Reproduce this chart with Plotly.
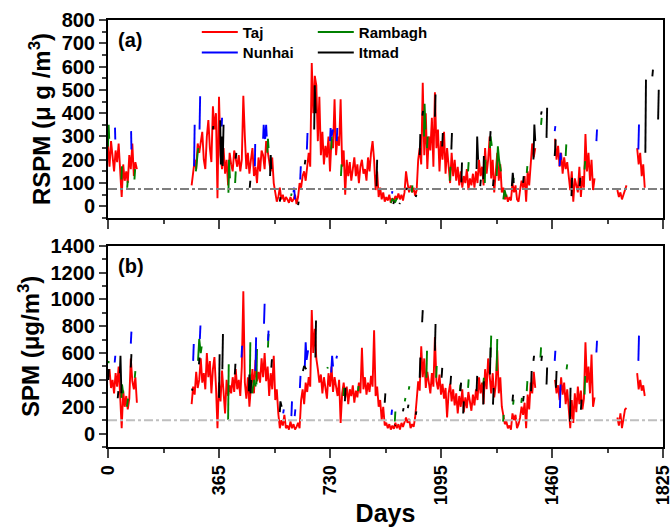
import plotly.graph_objects as go

# ---------------- data ----------------
STEP = 5
# Taj segments: (start day, values every 5 days)
taj_rspm_starts = [0, 275, 1470, 1675, 1740]
taj_rspm_seg1 = [260, 170, 280, 200, 150, 240, 190, 270, 130, 40, 180, 110, 150, 100, 220, 160, 270, 130, 190, 160]
taj_rspm_seg2 = [90, 150, 200, 160, 270, 230, 280, 320, 200, 160, 300, 370, 250, 190, 430, 330, 400, 35, 470, 220,
                 160, 250, 140, 200, 90, 230, 180, 150, 240, 200, 170, 220, 150, 200, 475, 300, 160, 230, 140, 200,
                 250, 130, 170, 100, 210, 150, 240, 220, 160, 280, 240, 200, 150, 210, 100, 60, 20, 40, 80, 30,
                 50, 20, 40,
                 30, 15, 40, 20, 30, 50, 10, 40, 100, 80, 130, 150, 110, 180, 230, 170, 615, 400, 560, 520,
                 280, 470, 220, 320, 180, 260, 210, 300, 150, 290, 250, 460, 220, 300, 260, 460, 170, 240, 50, 200,
                 130, 190, 110, 160, 210, 130, 180, 100, 170, 200, 140, 160, 110, 210, 150, 230, 280, 200, 70, 150,
                 40, 80, 30, 60, 20, 40, 25, 50, 15, 35, 20, 45, 30, 55, 30, 50, 25, 60, 150, 100,
                 60, 90, 60, 80, 45, 70, 200, 250, 180, 530, 220, 400, 160, 300, 240, 380, 170, 490, 250, 330,
                 150, 280, 200, 320, 140, 250, 180, 100, 230, 130, 200, 110, 170, 90, 150, 80, 130, 100, 160, 70,
                 120, 90, 140, 80,
                 150, 100, 200, 130, 170, 90, 250, 140, 200, 300, 120, 200, 60, 150, 230, 110, 180, 60, 80, 30,
                 50, 20, 40, 25, 100, 60, 90, 30, 20, 70, 110, 80, 130, 20, 150, 90, 200, 270, 210, 250]
taj_rspm_seg3 = [290, 200, 260, 170, 230, 140, 210, 160, 190, 120, 70, 150, 20, 120, 90, 60, 170, 40, 130, 80,
                 310, 150, 230, 110, 200, 70, 120]
taj_rspm_seg4 = [70, 40, 60, 30, 50, 70, 90]
taj_rspm_seg5 = [250, 180, 230, 130, 180, 80]

taj_spm_starts = [0, 275, 1470, 1675, 1740]
taj_spm_seg1 = [420, 480, 340, 400, 300, 450, 350, 500, 280, 40, 320, 200, 280, 180, 260, 560, 390, 330, 420, 230]
taj_spm_seg2 = [220, 350, 290, 460, 340, 400, 560, 380, 450, 330, 600, 420, 540, 300, 480, 570, 350, 40, 380, 240,
                470, 330, 150, 400, 280, 360, 300, 420, 310, 480, 330, 400, 280, 500, 1060, 380, 260, 420, 200, 350,
                480, 300, 550, 390, 460, 380, 560, 420, 600, 390, 500, 280, 450, 330, 580, 250, 330, 150, 40, 100,
                60, 140, 40,
                60, 30, 90, 40, 70, 30, 50, 80, 40, 250, 330, 220, 380, 310, 420, 350, 920, 600, 780, 560,
                480, 380, 440, 300, 420, 340, 260, 450, 350, 500, 310, 420, 340, 280, 400, 80, 300, 380, 270, 350,
                220, 330, 280, 360, 230, 320, 270, 380, 300, 640, 330, 420, 290, 380, 310, 430, 350, 770, 280, 350,
                200, 250, 100, 200, 60, 80, 40, 70, 30, 60, 35, 80, 40, 70, 30, 80, 50, 90, 120, 80,
                110, 40, 70, 50, 120, 250, 390, 320, 650, 420, 560, 340, 460, 380, 300, 450, 350, 720, 390, 330,
                440, 290, 370, 260, 340, 120, 300, 370, 240, 330, 210, 300, 150, 280, 200, 330, 160, 270, 190, 310,
                230, 170, 290, 210,
                330, 250, 420, 300, 380, 220, 480, 330, 560, 400, 300, 450, 270, 360, 620, 300, 420, 200, 120, 70,
                90, 40, 60, 30, 150, 100, 140, 40, 70, 120, 200, 140, 230, 40, 290, 180, 380, 300, 460, 340]
taj_spm_seg3 = [400, 300, 360, 250, 420, 290, 380, 220, 330, 150, 40, 250, 80, 300, 160, 350, 220, 320, 180, 260,
                680, 380, 500, 300, 590, 200, 270]
taj_spm_seg4 = [120, 60, 150, 40, 110, 180, 190]
taj_spm_seg5 = [450, 330, 400, 320, 360, 280]

# Other stations: visible stretches (None = gap)
N = None
nunhai_a_days = [23, 24, N, 76, 77, N, 283, 285, N, 301, 303, N, 374, 375, N, 483, 484, N, 510, 512, 514, 517, 520, 522, N,
                 610, 612, 615, N, 632, 634, N, 654, 656, N, 730, 732, 735, 740, N, 752, 754, N, 934, 935, N,
                 1469, 1471, N, 1485, 1488, 1490, N, 1606, 1608, N, 1744, 1746]
nunhai_a_vals = [338, 287, N, 323, 244, N, 172, 350, N, 330, 473, N, 343, 380, N, 172, 268, N, 290, 350, 300, 290, 350, 300, N,
                 60, 80, 30, N, 115, 172, N, 244, 315, N, 280, 336, 300, 330, N, 280, 336, N, 55, 65, N,
                 323, 344, N, 173, 230, 200, N, 280, 330, N, 244, 351]

itmad_a_days = [345, 346, N, 369, 371, 374, 377, 380, N, 420, 422, N, 466, 468, N, 533, 535, 537, N, 565, 567, N, 625, 627, N,
                647, 649, N, 678, 680, 683, N, 883, 885, N, 938, 941, N, 958, 960, N, 981, 983, N, 1012, 1014, N,
                1025, 1027, N, 1034, 1036, N, 1075, 1077, N, 1099, 1101, N, 1129, 1131, N, 1162, 1164, N,
                1212, 1214, 1217, N, 1224, 1226, N, 1234, 1236, N, 1256, 1258, N, 1266, 1268, N, 1328, 1331, 1334, N,
                1365, 1367, N, 1399, 1402, 1405, N, 1424, 1426, N, 1442, 1444, N, 1469, 1472, N, 1524, 1526, N,
                1551, 1553, N, 1767, 1769, N, 1790, 1792, N, 1809, 1811]
itmad_a_vals = [330, 345, N, 370, 180, 300, 173, 350, N, 205, 230, N, 80, 110, N, 130, 220, 160, N, 20, 40, N, 5, 20, N,
                180, 200, N, 330, 520, 400, N, 86, 200, N, 10, 20, N, 10, 15, N, 70, 80, N, 40, 50, N,
                220, 310, N, 390, 410, N, 385, 480, N, 257, 315, N, 244, 315, N, 103, 188, N,
                160, 300, 200, N, 87, 115, N, 116, 216, N, 280, 323, N, 87, 115, N, 87, 144, 100, N,
                101, 130, N, 201, 351, 280, N, 394, 408, N, 294, 423, N, 216, 287, N, 44, 123, N,
                87, 123, N, 230, 544, N, 558, 587, N, 373, 501]

rambagh_a_days = [0, 2, 4, N, 44, 46, N, 63, 65, N, 87, 89, N, 289, 291, 295, 297, N, 396, 398, 401, N, 418, 420, N,
                  524, 526, 528, N, 602, 604, N, 734, 736, N, 766, 768, N, 930, 935, 945, 950, N, 999, 1001, N,
                  1039, 1041, 1044, N, 1049, 1051, N, 1124, 1126, N, 1184, 1186, N, 1239, 1241, N, 1256, 1258, 1262, N,
                  1278, 1282, 1286, 1292, N, 1300, 1304, 1310, N, 1332, 1334, N, 1377, 1379, N, 1424, 1426, N,
                  1505, 1507, N, 1567, 1569]
rambagh_a_vals = [257, 350, 290, N, 115, 172, N, 80, 110, N, 115, 160, N, 150, 190, 230, 250, N, 58, 200, 120, N, 100, 150, N,
                  230, 290, 250, N, 45, 55, N, 244, 300, N, 130, 180, N, 15, 30, 20, 35, N, 60, 90, N,
                  300, 440, 330, N, 250, 300, N, 110, 170, N, 150, 190, N, 100, 200, N, 250, 300, 260, N,
                  130, 258, 200, 150, N, 30, 70, 40, N, 100, 122, N, 144, 173, N, 350, 380, N,
                  216, 266, N, 158, 194]

nunhai_b_days = [22, 24, N, 75, 77, N, 280, 282, N, 302, 304, N, 439, 441, N, 485, 487, N, 513, 515, N, 526, 528, N,
                 576, 578, N, 603, 605, N, 614, 616, N, 631, 633, N, 647, 650, 653, 658, N, 734, 737, 740, N,
                 751, 753, N, 932, 934, N, 1469, 1471, N, 1486, 1488, N, 1606, 1608, N, 1744, 1746]
nunhai_b_vals = [530, 580, N, 670, 760, N, 542, 667, N, 705, 805, N, 567, 655, N, 466, 717, N, 818, 968, N, 692, 767, N,
                 150, 180, N, 130, 240, N, 130, 180, N, 340, 430, N, 490, 680, 550, 620, N, 455, 580, 500, N,
                 560, 580, N, 140, 178, N, 542, 617, N, 190, 366, N, 604, 692, N, 542, 730]

itmad_b_days = [1, 3, N, 32, 34, N, 39, 41, 44, N, 75, 77, N, 276, 278, N, 299, 301, N, 365, 367, N, 376, 378, N,
                417, 419, N, 463, 465, 469, 471, N, 537, 539, N, 565, 567, 571, N, 641, 645, 652, N, 682, 684, N,
                779, 781, N, 910, 912, N, 943, 945, N, 970, 972, N, 986, 988, N, 1012, 1014, N, 1025, 1027, N,
                1033, 1035, N, 1075, 1077, N, 1097, 1099, N, 1126, 1128, N, 1159, 1161, N, 1168, 1170, N,
                1212, 1214, N, 1234, 1236, N, 1256, 1258, N, 1266, 1268, N, 1330, 1332, N, 1365, 1367, N,
                1391, 1393, N, 1399, 1401, N, 1425, 1427, N, 1442, 1444, N, 1473, 1475, N, 1519, 1521, N, 1555, 1557]
itmad_b_vals = [400, 480, N, 263, 316, N, 450, 580, 300, N, 492, 592, N, 320, 335, N, 516, 567, N, 266, 592, N, 479, 742, N,
                440, 520, N, 316, 440, 300, 400, N, 491, 554, N, 160, 240, 200, N, 466, 504, 480, N, 567, 843, N,
                241, 341, N, 230, 300, N, 60, 65, N, 165, 190, N, 190, 216, N, 140, 165, N, 416, 567, N,
                830, 920, N, 617, 817, N, 416, 490, N, 366, 430, N, 316, 380, N, 150, 240, N,
                316, 430, N, 216, 390, N, 441, 642, N, 216, 340, N, 240, 290, N, 240, 280, N,
                316, 466, N, 542, 580, N, 542, 580, N, 366, 492, N, 341, 466, N, 90, 341, N, 178, 253]

rambagh_b_days = [1, 3, N, 44, 46, 50, N, 62, 66, N, 88, 90, N, 296, 300, 305, 308, N, 395, 397, N, 466, 468, N,
                  474, 480, 486, N, 488, 490, N, 526, 528, N, 721, 723, N, 774, 776, N, 822, 824, N, 943, 945, N,
                  976, 978, N, 989, 991, N, 1047, 1049, N, 1079, 1081, N, 1157, 1159, N, 1184, 1186, N, 1234, 1236, N,
                  1258, 1260, N, 1278, 1280, N, 1299, 1301, N, 1332, 1334, N, 1359, 1361, N, 1377, 1379, N,
                  1422, 1424, N, 1508, 1510, N, 1567, 1569]
rambagh_b_vals = [525, 540, N, 266, 366, 300, N, 200, 260, N, 416, 466, N, 542, 705, 600, 650, N, 103, 516, N, 316, 680, N,
                  300, 400, 350, N, 366, 630, N, 642, 742, N, 485, 495, N, 280, 341, N, 316, 353, N, 90, 165, N,
                  240, 265, N, 328, 353, N, 416, 617, N, 416, 504, N, 316, 366, N, 341, 404, N, 366, 416, N,
                  567, 730, N, 466, 705, N, 90, 140, N, 216, 253, N, 228, 266, N, 316, 391, N,
                  567, 642, N, 479, 516, N, 291, 429]

RSPM_LIMIT = 75
SPM_LIMIT = 100
x_ticks = [0, 365, 730, 1095, 1460, 1825]


def build(starts, segs):
    xs, ys = [], []
    for s, seg in zip(starts, segs):
        if xs:
            xs.append(None)
            ys.append(None)
        xs += [s + STEP * i for i in range(len(seg))]
        ys += list(seg)
    return xs, ys


taj_a_x, taj_a_y = build(taj_rspm_starts, [taj_rspm_seg1, taj_rspm_seg2, taj_rspm_seg3, taj_rspm_seg4, taj_rspm_seg5])
taj_b_x, taj_b_y = build(taj_spm_starts, [taj_spm_seg1, taj_spm_seg2, taj_spm_seg3, taj_spm_seg4, taj_spm_seg5])

RED, GREEN, BLUE, BLACK = "#ff0000", "#008000", "#0000ff", "#000000"
LW = 1.9
FONT = "Liberation Sans"

fig = go.Figure()
# panel a
fig.add_trace(go.Scatter(x=taj_a_x, y=taj_a_y, mode="lines", line=dict(color=RED, width=LW), name="Taj",
                         legend="legend", xaxis="x", yaxis="y"))
fig.add_trace(go.Scatter(x=rambagh_a_days, y=rambagh_a_vals, mode="lines", line=dict(color=GREEN, width=LW), name="Rambagh",
                         legend="legend", xaxis="x", yaxis="y"))
fig.add_trace(go.Scatter(x=nunhai_a_days, y=nunhai_a_vals, mode="lines", line=dict(color=BLUE, width=LW), name="Nunhai",
                         legend="legend2", xaxis="x", yaxis="y"))
fig.add_trace(go.Scatter(x=itmad_a_days, y=itmad_a_vals, mode="lines", line=dict(color=BLACK, width=LW), name="Itmad",
                         legend="legend2", xaxis="x", yaxis="y"))
# panel b
fig.add_trace(go.Scatter(x=taj_b_x, y=taj_b_y, mode="lines", line=dict(color=RED, width=LW), showlegend=False,
                         xaxis="x2", yaxis="y2"))
fig.add_trace(go.Scatter(x=rambagh_b_days, y=rambagh_b_vals, mode="lines", line=dict(color=GREEN, width=LW), showlegend=False,
                         xaxis="x2", yaxis="y2"))
fig.add_trace(go.Scatter(x=nunhai_b_days, y=nunhai_b_vals, mode="lines", line=dict(color=BLUE, width=LW), showlegend=False,
                         xaxis="x2", yaxis="y2"))
fig.add_trace(go.Scatter(x=itmad_b_days, y=itmad_b_vals, mode="lines", line=dict(color=BLACK, width=LW), showlegend=False,
                         xaxis="x2", yaxis="y2"))

fig.add_shape(type="line", xref="x domain", yref="y", x0=0, x1=1, y0=RSPM_LIMIT, y1=RSPM_LIMIT,
              line=dict(color="#7f7f7f", width=2, dash="dashdot"))
fig.add_shape(type="line", xref="x2 domain", yref="y2", x0=0, x1=1, y0=SPM_LIMIT, y1=SPM_LIMIT,
              line=dict(color="#bfbfbf", width=2, dash="dashdot"))

ytickfont = dict(family=FONT, size=20, color="black", weight="bold")
xtickfont = dict(family=FONT, size=18, color="black", weight="bold")
common_x = dict(range=[0, 1825], tickmode="array", tickvals=x_ticks, ticks="outside", ticklen=9, tickwidth=2,
                minor=dict(tickmode="linear", tick0=0, dtick=182.5, ticks="outside", ticklen=4, tickwidth=2),
                showline=True, linewidth=2, linecolor="black", mirror=True, showgrid=False, zeroline=False,
                tickfont=xtickfont, automargin=False, ticklabeloverflow="allow")
common_y = dict(ticks="outside", ticklen=7, tickwidth=2, showline=True, linewidth=2, linecolor="black",
                mirror=True, showgrid=False, zeroline=False, tickfont=ytickfont, automargin=False,
                ticklabeloverflow="allow")

fig.update_layout(
    width=672, height=528,
    margin=dict(l=108, r=9, t=20, b=81),
    paper_bgcolor="white", plot_bgcolor="white",
    font=dict(family=FONT, color="black"),
    xaxis=dict(common_x, anchor="y", domain=[0, 1], showticklabels=False),
    yaxis=dict(common_y, anchor="x", domain=[0.5363, 1], range=[-50, 800], tickmode="linear", tick0=0, dtick=100,
               minor=dict(tickmode="linear", tick0=0, dtick=50, ticks="outside", ticklen=4, tickwidth=2),
               title=dict(text="RSPM (μ g /m<sup>3</sup>)", font=dict(family=FONT, size=24, weight="bold"), standoff=4)),
    xaxis2=dict(common_x, anchor="y2", domain=[0, 1], tickangle=-90,
                title=dict(text="Days", font=dict(family=FONT, size=25, weight="bold"), standoff=0)),
    yaxis2=dict(common_y, anchor="x2", domain=[0, 0.4714], range=[-100, 1400], tickmode="linear", tick0=0, dtick=200,
                minor=dict(tickmode="linear", tick0=0, dtick=100, ticks="outside", ticklen=4, tickwidth=2),
                title=dict(text="SPM (μg/m<sup>3</sup>)", font=dict(family=FONT, size=24, weight="bold"), standoff=4)),
    legend=dict(orientation="h", x=0.16, y=1.01, xanchor="left", yanchor="top", bgcolor="rgba(0,0,0,0)",
                font=dict(family=FONT, size=15, weight="bold"), entrywidth=65, entrywidthmode="pixels",
                itemwidth=36, tracegroupgap=0),
    legend2=dict(orientation="h", x=0.16, y=0.962, xanchor="left", yanchor="top", bgcolor="rgba(0,0,0,0)",
                 font=dict(family=FONT, size=15, weight="bold"), entrywidth=65, entrywidthmode="pixels",
                 itemwidth=36, tracegroupgap=0),
    annotations=[
        dict(text="(a)", xref="x domain", yref="y domain", x=0.015, y=0.9, xanchor="left", yanchor="middle",
             showarrow=False, font=dict(family=FONT, size=20, weight="bold")),
        dict(text="(b)", xref="x2 domain", yref="y2 domain", x=0.015, y=0.9, xanchor="left", yanchor="middle",
             showarrow=False, font=dict(family=FONT, size=20, weight="bold")),
    ],
)

fig.write_html("out.html")
